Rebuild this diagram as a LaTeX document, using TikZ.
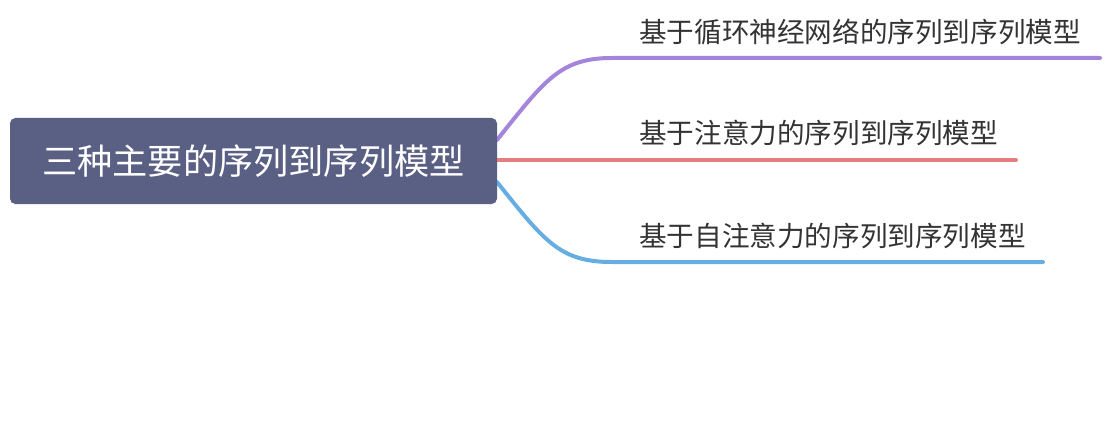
\documentclass[tikz,border=0pt]{standalone}
\usepackage{fontspec}
\newfontfamily\cjk{Noto Sans CJK SC}
\definecolor{rootfill}{HTML}{5A5F84}
\definecolor{leafgray}{HTML}{333333}
\definecolor{rnncol}{HTML}{A584DC}
\definecolor{attncol}{HTML}{E47E7F}
\definecolor{selfcol}{HTML}{66AEE2}
\begin{document}
\begin{tikzpicture}[x=0.75pt,y=-0.75pt,
  rootbox/.style={fill=rootfill, text=white, rounded corners=4pt,
    minimum width=365.25pt, minimum height=64.5pt, inner sep=0pt,
    font=\cjk\fontsize{26.4}{30}\selectfont},
  leaf/.style={anchor=west, inner sep=0pt, text=leafgray,
    font=\cjk\fontsize{20.7}{24}\selectfont},
  branch/.style={line width=3pt, line cap=round}]
\useasboundingbox (0,0) rectangle (1108,428);
% topic and its three subtopics
\node[leaf] (rnn) at (639,32) {基于循环神经网络的序列到序列模型};
\node[leaf] (attn) at (639,133) {基于注意力的序列到序列模型};
\node[leaf] (self) at (639,236) {基于自注意力的序列到序列模型};
\coordinate (rnnbend) at (612,58);
\coordinate (rnnend) at (1100,58);
\coordinate (attnend) at (1016,160);
\coordinate (selfbend) at (612,262);
\coordinate (selfend) at (1043,262);
\draw[branch, rnncol] (497,140) .. controls (545,80) and (560,58) .. (rnnbend) -- (rnnend);
\draw[branch, attncol] (497,160) -- (attnend);
\draw[branch, selfcol] (497,182) .. controls (545,242) and (560,262) .. (selfbend) -- (selfend);
\node[rootbox] (root) at (253.5,161) {三种主要的序列到序列模型};
\end{tikzpicture}
\end{document}
